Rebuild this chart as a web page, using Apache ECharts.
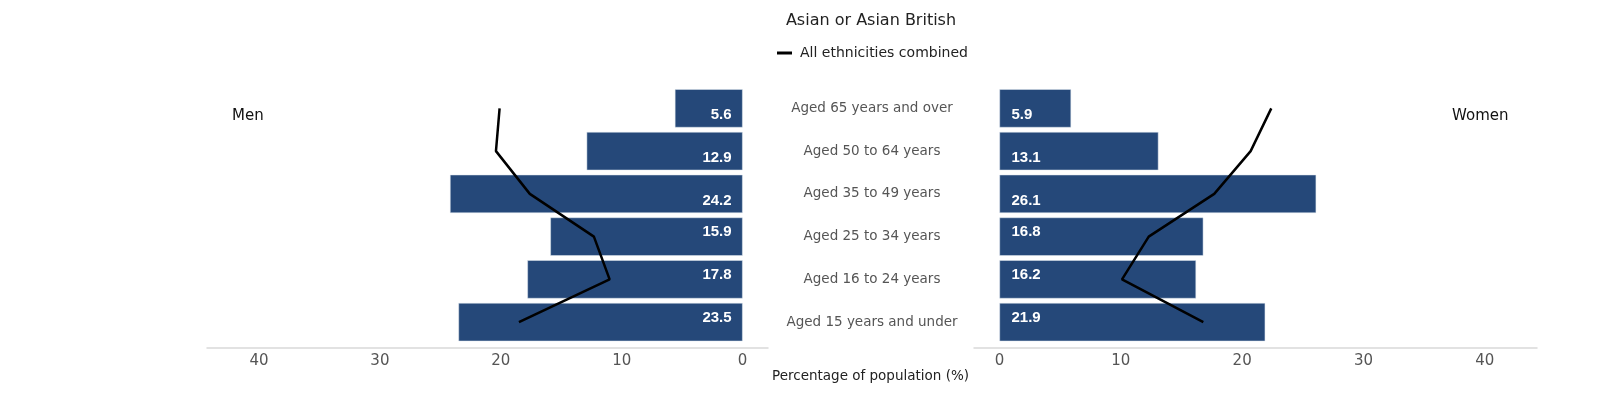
<!DOCTYPE html>
<html>
<head>
<meta charset="utf-8">
<script src="https://cdn.jsdelivr.net/npm/echarts@6/dist/echarts.min.js"></script>
<style>html,body{margin:0;padding:0;background:#fff}#c{width:1600px;height:400px}</style>
</head>
<body>
<div id="c"></div>
<script>
var categories = ['Aged 65 years and over','Aged 50 to 64 years','Aged 35 to 49 years','Aged 25 to 34 years','Aged 16 to 24 years','Aged 15 years and under'];
var menValues = [5.6, 12.9, 24.2, 15.9, 17.8, 23.5];
var womenValues = [5.9, 13.1, 26.1, 16.8, 16.2, 21.9];
var allMen = [20.1, 20.4, 17.6, 12.3, 11.0, 18.5];
var allWomen = [22.4, 20.7, 17.7, 12.3, 10.1, 16.8];
var xTicks = [0, 10, 20, 30, 40];

var FONT = '"DejaVu Sans", Verdana, sans-serif';
var BAR = '#254879';

function barData(vals) {
  return vals.map(function (v, i) {
    return { value: v, label: { offset: [0, i < 3 ? 6.5 : -4.5] } };
  });
}

var chart = echarts.init(document.getElementById('c'));
var xAxisCommon = {
  type: 'value', min: -2.1, max: 44.3, minInterval: 10, maxInterval: 10,
  offset: 4,
  axisLine: { show: true, onZero: false, lineStyle: { color: '#d9d9d9', width: 1.5 } },
  axisTick: { show: false },
  splitLine: { show: false },
  axisLabel: {
    showMinLabel: false, showMaxLabel: false, margin: 6,
    color: '#555', fontSize: 15, fontFamily: FONT,
    formatter: function (v) { return xTicks.indexOf(v) >= 0 ? String(v) : ''; }
  }
};

chart.setOption({
  animation: false,
  title: {
    text: 'Asian or Asian British', left: 871, top: 13, textAlign: 'center', padding: 0,
    textStyle: { fontFamily: FONT, fontSize: 16, fontWeight: 'normal', color: '#222' }
  },
  legend: {
    data: ['All ethnicities combined'], left: 777, top: 46, padding: 0,
    icon: 'rect', itemWidth: 15, itemHeight: 3, itemGap: 10,
    textStyle: { fontFamily: FONT, fontSize: 14, color: '#222', padding: [0, 0, 0, 3] }
  },
  grid: [
    { left: 207, right: 832, top: 87, bottom: 56.5 },
    { left: 974, right: 63, top: 87, bottom: 56.5 }
  ],
  xAxis: [
    Object.assign({}, xAxisCommon, { gridIndex: 0, inverse: true }),
    Object.assign({}, xAxisCommon, { gridIndex: 1 })
  ],
  yAxis: [
    { type: 'category', gridIndex: 0, data: categories, inverse: true, show: false },
    { type: 'category', gridIndex: 1, data: categories, inverse: true,
      axisLine: { show: false, onZero: false }, axisTick: { show: false },
      axisLabel: { margin: 102, align: 'center', color: '#555', fontSize: 13.5, fontFamily: FONT } }
  ],
  graphic: [
    { type: 'text', left: 232, top: 109, style: { text: 'Men', font: '15px ' + FONT, fill: '#111' } },
    { type: 'text', left: 1452, top: 109, style: { text: 'Women', font: '15px ' + FONT, fill: '#111' } },
    { type: 'text', left: 772, top: 369, style: { text: 'Percentage of population (%)', font: '13.5px ' + FONT, fill: '#222' } }
  ],
  series: [
    { name: 'Men', type: 'bar', xAxisIndex: 0, yAxisIndex: 0, data: barData(menValues),
      barCategoryGap: '10.5%', itemStyle: { color: BAR, borderColor: '#dfe6ef', borderWidth: 0.5 },
      label: { show: true, position: 'insideRight', distance: 11, color: '#fff', fontWeight: 'bold', fontSize: 15, fontFamily: '"Liberation Sans", Arial, sans-serif' } },
    { name: 'Women', type: 'bar', xAxisIndex: 1, yAxisIndex: 1, data: barData(womenValues),
      barCategoryGap: '10.5%', itemStyle: { color: BAR, borderColor: '#dfe6ef', borderWidth: 0.5 },
      label: { show: true, position: 'insideLeft', distance: 12, color: '#fff', fontWeight: 'bold', fontSize: 15, fontFamily: '"Liberation Sans", Arial, sans-serif' } },
    { name: 'All ethnicities combined', type: 'line', xAxisIndex: 0, yAxisIndex: 0, data: allMen,
      symbol: 'none', lineStyle: { color: '#000', width: 2.5 }, itemStyle: { color: '#000' }, z: 5 },
    { name: 'All ethnicities combined', type: 'line', xAxisIndex: 1, yAxisIndex: 1, data: allWomen,
      symbol: 'none', lineStyle: { color: '#000', width: 2.5 }, itemStyle: { color: '#000' }, z: 5 }
  ]
});
</script>
</body>
</html>
